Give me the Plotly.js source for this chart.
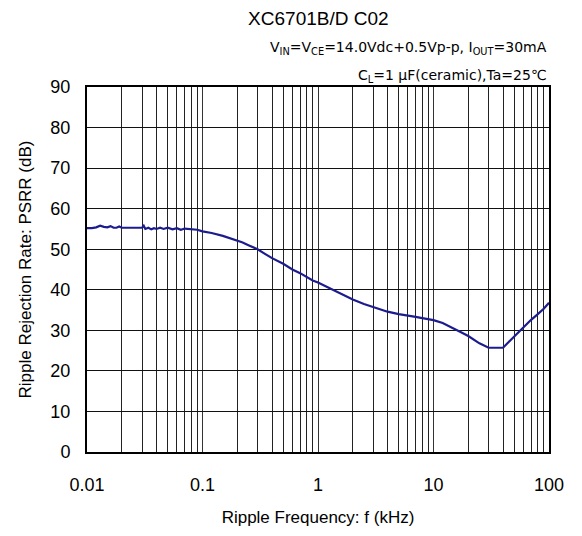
<!DOCTYPE html>
<html>
<head>
<meta charset="utf-8">
<script src="https://cdn.plot.ly/plotly-3.0.1.min.js"></script>
<style>html,body{margin:0;padding:0;background:#fff;}#chart{width:582px;height:536px;}</style>
</head>
<body>
<div id="chart"></div>
<script>
// Ripple frequency (kHz)
const freqKHz = [0.010,0.011,0.012,0.013,0.014,0.015,0.016,0.017,0.018,0.019,0.020,0.022,0.025,0.030,0.031,0.032,0.034,0.036,0.038,0.040,0.043,0.046,0.050,0.055,0.060,0.065,0.070,0.080,0.090,0.10,0.12,0.15,0.18,0.20,0.22,0.25,0.30,0.35,0.40,0.50,0.60,0.70,0.80,0.90,1.0,1.2,1.5,2.0,2.5,3.0,4.0,5.0,6.0,7.0,8.0,10,12,15,18,20,25,30,35,40,45,50,60,70,80,90,100];
// PSRR (dB)
const psrrDB = [55.2,55.2,55.4,55.8,55.5,55.4,55.7,55.3,55.3,55.6,55.3,55.3,55.3,55.3,55.8,55.0,55.3,54.9,55.2,55.0,55.3,55.0,55.3,54.9,55.2,54.8,55.1,54.9,54.8,54.4,54.0,53.3,52.6,52.1,51.7,51.0,50.0,48.8,47.8,46.4,45.0,44.1,43.1,42.3,41.8,40.7,39.2,37.6,36.5,35.7,34.6,34.0,33.7,33.3,33.0,32.5,31.8,30.5,29.3,28.6,26.8,25.7,25.7,25.7,27.2,28.5,30.8,32.6,34.0,35.3,36.8];
const xTickVals = [0.01,0.1,1,10,100];
const xTickText = ['0.01','0.1','1','10','100'];
const yTickVals = [0,10,20,30,40,50,60,70,80,90];

const font = 'Liberation Sans, Arial, sans-serif';
const annFont = 'DejaVu Sans, sans-serif';

Plotly.newPlot('chart', [{
  x: freqKHz, y: psrrDB, type: 'scatter', mode: 'lines',
  line: {color: '#1c1c8e', width: 2.2}, hoverinfo: 'skip'
}], {
  width: 582, height: 536,
  margin: {l: 87, r: 33, t: 87, b: 84},
  paper_bgcolor: '#fff', plot_bgcolor: '#fff',
  showlegend: false,
  font: {family: font, color: '#000'},
  title: {text: 'XC6701B/D C02', x: 0.547, xanchor: 'center', y: 0.966, yanchor: 'middle', font: {size: 19, family: font}},
  xaxis: {
    type: 'log', range: [-2, 2],
    tickvals: xTickVals, ticktext: xTickText,
    tickfont: {size: 18}, ticks: 'outside', ticklen: 15, tickcolor: 'rgba(0,0,0,0)',
    showgrid: true, gridcolor: '#333', gridwidth: 1,
    minor: {dtick: 'D1', showgrid: true, gridcolor: '#222', gridwidth: 1, ticks: ''},
    showline: true, linecolor: '#000', linewidth: 2, mirror: true,
    zeroline: false,
    title: {text: 'Ripple Frequency: f (kHz)', font: {size: 17}, standoff: 18}
  },
  yaxis: {
    range: [0, 90], tickvals: yTickVals,
    tickfont: {size: 18}, ticks: 'outside', ticklen: 11, tickcolor: 'rgba(0,0,0,0)',
    showgrid: true, gridcolor: '#111', gridwidth: 1,
    showline: true, linecolor: '#000', linewidth: 2, mirror: true,
    zeroline: false,
    title: {text: 'Ripple Rejection Rate: PSRR (dB)', font: {size: 17}, standoff: 14}
  },
  annotations: [
    {text: 'V<sub>IN</sub>=V<sub>CE</sub>=14.0Vdc+0.5Vp-p, I<sub>OUT</sub>=30mA', xref: 'paper', yref: 'paper', x: 1, y: 1.106, xanchor: 'right', yanchor: 'middle', showarrow: false, font: {size: 14, family: annFont}},
    {text: 'C<sub>L</sub>=1 μF(ceramic),Ta=25℃', xref: 'paper', yref: 'paper', x: 1, y: 1.031, xanchor: 'right', yanchor: 'middle', showarrow: false, font: {size: 14, family: annFont}}
  ]
}, {staticPlot: true});
</script>
</body>
</html>
